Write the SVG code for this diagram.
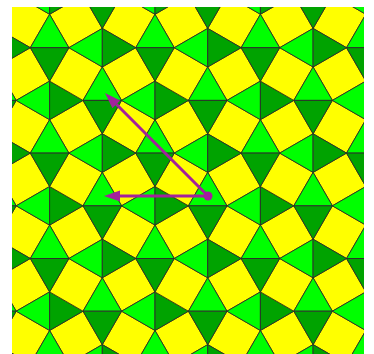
<svg xmlns="http://www.w3.org/2000/svg" xmlns:xlink="http://www.w3.org/1999/xlink" width="374" height="354" viewBox="0 0 374 354">
<style>
.l{fill:#00ff00;stroke:#2b2b2b;stroke-width:0.9;stroke-linejoin:round}
.d{fill:#00a300;stroke:#2b2b2b;stroke-width:0.9;stroke-linejoin:round}
.y{fill:#ffff00;stroke:#3a3a10;stroke-width:0.9;stroke-linejoin:round}
.arr{stroke:#a3229c;stroke-width:3;fill:none}
.head{fill:#a3229c}
</style>
<defs>
<clipPath id="clip"><rect x="12" y="7" width="352" height="347"/></clipPath>
<g id="cell">
<polygon class="y" points="19.29,0 52.7,19.29 33.41,52.7 0,33.41"/>
<polygon class="y" points="86.11,0 105.4,33.41 71.99,52.7 52.7,19.29"/>
<polygon class="l" points="-19.29,0 19.29,0 0,-33.41"/>
<polygon class="d" points="-19.29,0 19.29,0 0,33.41"/>
<polygon class="l" points="52.7,-19.29 52.7,19.29 19.29,0"/>
<polygon class="d" points="52.7,-19.29 52.7,19.29 86.11,0"/>
</g>
<g id="block">
<use xlink:href="#cell"/>
<use xlink:href="#cell" x="52.7" y="52.7"/>
</g>
</defs>
<rect width="374" height="354" fill="#ffffff"/>
<g id="tiling" clip-path="url(#clip)">
<use xlink:href="#block" x="-55.8" y="-57.7"/>
<use xlink:href="#block" x="49.6" y="-57.7"/>
<use xlink:href="#block" x="155" y="-57.7"/>
<use xlink:href="#block" x="260.4" y="-57.7"/>
<use xlink:href="#block" x="365.8" y="-57.7"/>
<use xlink:href="#block" x="-55.8" y="47.7"/>
<use xlink:href="#block" x="49.6" y="47.7"/>
<use xlink:href="#block" x="155" y="47.7"/>
<use xlink:href="#block" x="260.4" y="47.7"/>
<use xlink:href="#block" x="365.8" y="47.7"/>
<use xlink:href="#block" x="-55.8" y="153.1"/>
<use xlink:href="#block" x="49.6" y="153.1"/>
<use xlink:href="#block" x="155" y="153.1"/>
<use xlink:href="#block" x="260.4" y="153.1"/>
<use xlink:href="#block" x="365.8" y="153.1"/>
<use xlink:href="#block" x="-55.8" y="258.5"/>
<use xlink:href="#block" x="49.6" y="258.5"/>
<use xlink:href="#block" x="155" y="258.5"/>
<use xlink:href="#block" x="260.4" y="258.5"/>
<use xlink:href="#block" x="365.8" y="258.5"/>
<use xlink:href="#block" x="-55.8" y="363.9"/>
<use xlink:href="#block" x="49.6" y="363.9"/>
<use xlink:href="#block" x="155" y="363.9"/>
<use xlink:href="#block" x="260.4" y="363.9"/>
<use xlink:href="#block" x="365.8" y="363.9"/>
</g>
<g id="connectors">
<line class="arr" x1="208" y1="196" x2="116.3" y2="104.3"/>
<polygon class="head" points="105,93 120.2,100.4 112.4,108.2"/>
<line class="arr" x1="208" y1="196" x2="119" y2="196"/>
<polygon class="head" points="104,196 120,190.5 120,201.5"/>
<circle class="head" cx="208" cy="196" r="4.5"/>
</g>
</svg>
